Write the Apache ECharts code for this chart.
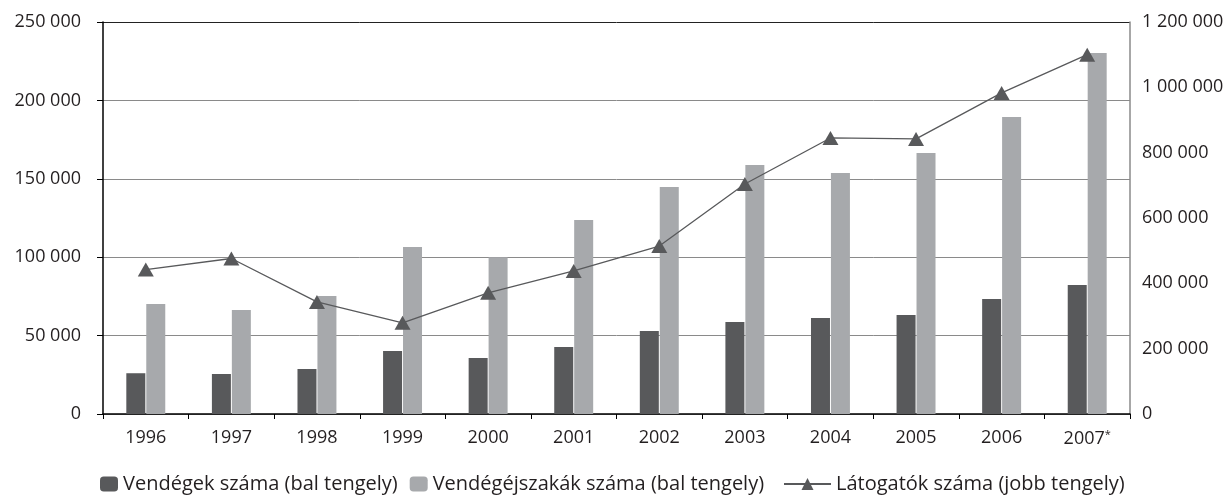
<!DOCTYPE html>
<html>
<head>
<meta charset="utf-8">
<script src="https://cdn.jsdelivr.net/npm/echarts@6/dist/echarts.min.js"></script>
<style>html,body{margin:0;padding:0;background:#fff}#c{width:1232px;height:496px}</style>
</head>
<body>
<div id="c"></div>
<script>
const years = ['1996','1997','1998','1999','2000','2001','2002','2003','2004','2005','2006','2007*'];
const vendegek = [26000, 25500, 28700, 40200, 35700, 42700, 52900, 58700, 61200, 63100, 73300, 82300];
const vendegejszakak = [70200, 66300, 75300, 106500, 100000, 123700, 144800, 158800, 153700, 166500, 189400, 230200];
const latogatok = [442000, 476000, 343000, 279000, 371000, 438000, 514000, 704000, 845000, 842000, 983000, 1100000];
const seriesNames = ['Vendégek száma (bal tengely)', 'Vendégéjszakák száma (bal tengely)', 'Látogatók száma (jobb tengely)'];

const FONT = '"Open Sans", sans-serif';
const TXT = '#231f20';
const fmt = v => String(v).replace(/\B(?=(\d{3})+(?!\d))/g, ' ');

const chart = echarts.init(document.getElementById('c'));
chart.setOption({
  animation: false,
  textStyle: { fontFamily: FONT },
  grid: { left: 103, right: 102, top: 22, bottom: 82, containLabel: false },
  legend: [
    {
      data: [seriesNames[0], seriesNames[1]],
      left: 100, top: 474, padding: 0, itemWidth: 18, itemHeight: 15, itemGap: 12,
      textStyle: { fontFamily: FONT, fontSize: 20, color: TXT }
    },
    {
      data: [seriesNames[2]],
      left: 783, top: 474, padding: 0, itemWidth: 47, itemHeight: 15,
      textStyle: { fontFamily: FONT, fontSize: 20, color: TXT }
    }
  ],
  xAxis: {
    type: 'category',
    data: years,
    boundaryGap: true,
    axisLine: { lineStyle: { color: '#000', width: 1.5 } },
    axisTick: { show: true, length: 5, lineStyle: { color: '#000' } },
    axisLabel: {
      interval: 0, margin: 15, fontSize: 18, color: TXT, fontFamily: FONT,
      formatter: v => v.endsWith('*') ? v.slice(0, -1) + '{s|*}' : v,
      rich: { s: { fontSize: 11, color: TXT, fontFamily: FONT, verticalAlign: 'top', padding: [0,0,8,0] } }
    }
  },
  yAxis: [
    {
      type: 'value', min: 0, max: 250000, interval: 50000,
      axisLine: { show: true, lineStyle: { color: '#000', width: 1.5 } },
      axisTick: { show: true, length: 6, lineStyle: { color: '#000' } },
      axisLabel: { margin: 22, fontSize: 18, color: TXT, fontFamily: FONT, formatter: fmt },
      splitLine: { show: true, lineStyle: { color: ['#8a8a8a','#8a8a8a','#8a8a8a','#8a8a8a','#8a8a8a','#222'], width: 1 } }
    },
    {
      type: 'value', min: 0, max: 1200000, interval: 200000,
      axisLine: { show: true, lineStyle: { color: '#8a8a8a', width: 1.5 } },
      axisTick: { show: false },
      axisLabel: { margin: 12, fontSize: 18, color: TXT, fontFamily: FONT, formatter: fmt },
      splitLine: { show: false }
    }
  ],
  series: [
    {
      name: seriesNames[0], type: 'bar', yAxisIndex: 0, data: vendegek,
      barWidth: 19, barGap: '5%',
      itemStyle: { color: '#58595b' }
    },
    {
      name: seriesNames[1], type: 'bar', yAxisIndex: 0, data: vendegejszakak,
      barWidth: 19, barGap: '5%',
      itemStyle: { color: '#a7a9ac' }
    },
    {
      name: seriesNames[2], type: 'line', yAxisIndex: 1, data: latogatok,
      symbol: 'triangle', symbolSize: [16, 14],
      lineStyle: { color: '#58595b', width: 1.3 },
      itemStyle: { color: '#58595b' }
    }
  ]
});
</script>
</body>
</html>
